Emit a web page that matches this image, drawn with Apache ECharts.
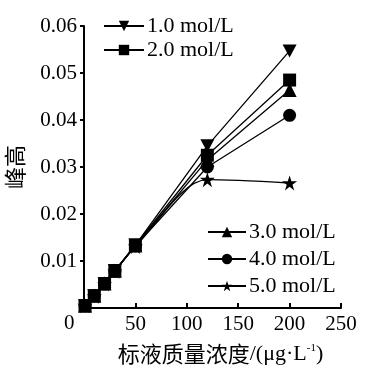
<!DOCTYPE html>
<html><head><meta charset="utf-8">
<script src="https://cdn.jsdelivr.net/npm/echarts@6/dist/echarts.min.js"></script>
<style>html,body{margin:0;padding:0;background:#fff}#c{width:368px;height:374px}</style>
</head><body><div id="c"></div>
<script>
var xValues = [1, 10, 20, 30, 50, 120, 200];
var s10 = [0.0005, 0.0026, 0.0052, 0.0080, 0.0134, 0.0345, 0.0547];
var s20 = [0.0005, 0.0026, 0.0052, 0.0079, 0.0134, 0.0325, 0.0485];
var s30 = [0.0005, 0.0026, 0.0052, 0.0079, 0.0133, 0.0315, 0.0464];
var s40 = [0.0005, 0.0026, 0.0051, 0.0078, 0.0132, 0.0300, 0.0410];
var s50 = [0.0005, 0.0025, 0.0051, 0.0078, 0.0131, 0.0273, 0.0266];
var seriesNames = ['1.0 mol/L', '2.0 mol/L', '3.0 mol/L', '4.0 mol/L', '5.0 mol/L'];
var yTicks = [0, 0.01, 0.02, 0.03, 0.04, 0.05, 0.06];
var xTicks = [0, 50, 100, 150, 200, 250];

var font = '"Liberation Serif", "Times New Roman", serif';
var cjk = '"Noto Sans CJK SC", "Liberation Serif", serif';
function pairs(v){ return xValues.map(function(x,i){ return [x, v[i]]; }); }
var symbols = [
  'path://M0,0 L10,0 L5,10 Z',
  'rect', 'triangle', 'circle',
  'path://M5,0 L6.2,3.6 L10,3.6 L6.9,5.8 L8.1,9.5 L5,7.2 L1.9,9.5 L3.1,5.8 L0,3.6 L3.8,3.6 Z'
];
var sizes = [[14,13], 13, 14, 13, 15];
var datas = [s10, s20, s30, s40, s50];
var series = datas.map(function(d, i){
  return {
    name: seriesNames[i], type: 'line', data: pairs(d),
    symbol: symbols[i], symbolSize: sizes[i], smooth: i === 4 ? 0.3 : false,
    lineStyle: {color: '#000', width: 1.3},
    itemStyle: {color: '#000'},
    z: 5 - i
  };
});
var chart = echarts.init(document.getElementById('c'));
chart.setOption({
  animation: false,
  backgroundColor: '#fff',
  grid: {left: 84, right: 27, top: 26, bottom: 66, containLabel: false, outerBoundsMode: 'none'},
  xAxis: {
    type: 'value', min: 0, max: 250, interval: 50,
    name: '{a|标液质量浓度}{b|/(μg·L}{s|-1}{b|)}',
    nameLocation: 'middle', nameGap: 35,
    nameTextStyle: {padding: [0,0,0,16], rich: {
      a: {fontFamily: cjk, fontSize: 22, color: '#000'},
      b: {fontFamily: font, fontSize: 22, color: '#000'},
      s: {fontFamily: font, fontSize: 11, color: '#000', verticalAlign: 'top', padding: [0,0,8,0]}
    }},
    axisLine: {lineStyle: {color: '#000', width: 2}},
    axisTick: {inside: true, length: 5, lineStyle: {color: '#000', width: 2}},
    splitLine: {show: false},
    axisLabel: {color: '#000', fontFamily: font, fontSize: 21, margin: 6,
      formatter: function(v){ return v === 0 ? '' : String(v); }}
  },
  yAxis: {
    type: 'value', min: 0, max: 0.06, interval: 0.01,
    name: '峰高', nameLocation: 'middle', nameGap: 58,
    nameTextStyle: {fontFamily: cjk, fontSize: 22, color: '#000'},
    axisLine: {lineStyle: {color: '#000', width: 2}},
    axisTick: {length: 4, lineStyle: {color: '#000', width: 2}},
    splitLine: {show: false},
    axisLabel: {color: '#000', fontFamily: font, fontSize: 21, margin: 7,
      formatter: function(v){ return v === 0 ? '' : v.toFixed(2); }}
  },
  legend: [
    {data: seriesNames.slice(0,2), orient: 'vertical', left: 103, top: 15, padding: 0,
     itemWidth: 40, itemHeight: 13, itemGap: 2,
     textStyle: {fontFamily: font, fontSize: 22, color: '#000', padding: [0,0,0,-2]}},
    {data: seriesNames.slice(2), orient: 'vertical', left: 207, top: 221, padding: 0,
     itemWidth: 38, itemHeight: 13, itemGap: 5,
     textStyle: {fontFamily: font, fontSize: 22, color: '#000', padding: [0,0,0,-2]}}
  ],
  graphic: [{type: 'text', left: 64, top: 313, style: {text: '0', font: '21px ' + font, fill: '#000'}}],
  series: series
});
</script></body></html>
